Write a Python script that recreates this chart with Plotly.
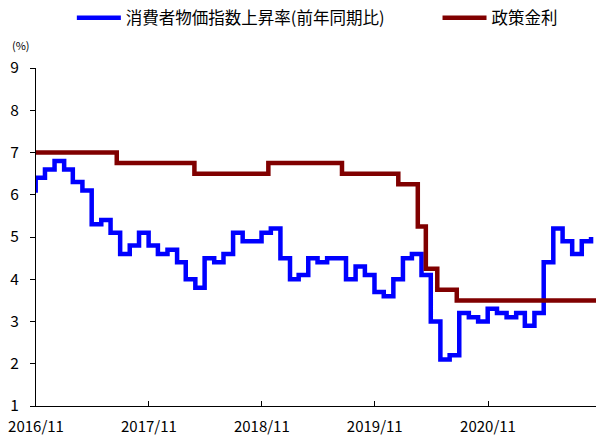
import pandas as pd
import plotly.graph_objects as go

# CPI year-on-year (%), monthly, Sep 2016 .. Sep 2021 (plotted at month end)
cpi_months = pd.period_range("2016-09", "2021-09", freq="M").strftime("%Y/%m").tolist()
cpi_values = [
    6.1, 6.4, 6.6, 6.8,
    6.6, 6.3, 6.1, 5.3, 5.4, 5.1, 4.6, 4.8, 5.1, 4.8, 4.6, 4.7,
    4.4, 4.0, 3.8, 4.5, 4.4, 4.6, 5.1, 4.9, 4.9, 5.1, 5.2, 4.5,
    4.0, 4.1, 4.5, 4.4, 4.5, 4.5, 4.0, 4.3, 4.1, 3.7, 3.6, 4.0,
    4.5, 4.6, 4.1, 3.0, 2.1, 2.2, 3.2, 3.1, 3.0, 3.3, 3.2, 3.1,
    3.2, 2.9, 3.2, 4.4, 5.2, 4.9, 4.6, 4.9, 5.0,
]

# Policy rate (%), decision dates
rate_dates = ["2016-03-17", "2017-07-20", "2018-03-28", "2018-11-22", "2019-07-18",
              "2020-01-16", "2020-03-19", "2020-04-14", "2020-05-21", "2020-07-23",
              "2021-10-31"]
rate_values = [7.0, 6.75, 6.5, 6.75, 6.5, 6.25, 5.25, 4.25, 3.75, 3.5, 3.5]

tick_dates = ["2016-11-01", "2017-11-01", "2018-11-01", "2019-11-01", "2020-11-01"]
tick_labels = ["2016/11", "2017/11", "2018/11", "2019/11", "2020/11"]
y_ticks = [1, 2, 3, 4, 5, 6, 7, 8, 9]

cpi_dates = [pd.Period(m.replace("/", "-"), freq="M").end_time.normalize() for m in cpi_months]

FONT = "Noto Sans CJK JP"

fig = go.Figure()
fig.add_trace(go.Scatter(
    x=cpi_dates, y=cpi_values, mode="lines", line_shape="hv",
    name="消費者物価指数上昇率(前年同期比)",
    line=dict(color="#0000FF", width=4.5),
    legend="legend",
))
fig.add_trace(go.Scatter(
    x=pd.to_datetime(rate_dates), y=rate_values, mode="lines", line_shape="hv",
    name="政策金利",
    line=dict(color="#800000", width=4.5),
    legend="legend2",
))

leg_common = dict(
    orientation="h", yanchor="middle", xanchor="left",
    font=dict(size=16.5, family=FONT, color="black"),
    bgcolor="rgba(0,0,0,0)", itemwidth=44,
)

fig.update_layout(
    width=596, height=436,
    margin=dict(l=36, r=0, t=68, b=30, autoexpand=False),
    paper_bgcolor="white", plot_bgcolor="white",
    font=dict(family=FONT, size=16, color="black"),
    showlegend=True,
    legend=dict(x=0.064, y=1.148, **leg_common),
    legend2=dict(x=0.717, y=1.148, **leg_common),
    xaxis=dict(
        type="date", range=["2016-11-01", "2021-10-16"],
        tickvals=tick_dates, ticktext=tick_labels,
        ticks="inside", ticklen=5, tickcolor="black",
        showline=True, linecolor="black", linewidth=1,
        showgrid=False, zeroline=False, automargin=False,
        tickfont=dict(size=15, family=FONT, color="black"),
        ticklabelstandoff=7,
    ),
    yaxis=dict(
        range=[1, 9], tickvals=y_ticks,
        ticks="outside", ticklen=5, tickcolor="black",
        showline=True, linecolor="black", linewidth=1,
        showgrid=False, zeroline=False, automargin=False,
        tickfont=dict(size=15.5, family=FONT, color="black"),
        ticklabelstandoff=8,
    ),
    annotations=[dict(
        text="(%)", xref="paper", yref="paper", x=-0.026, y=1.068,
        xanchor="center", yanchor="middle", showarrow=False,
        font=dict(size=11, family=FONT, color="black"),
    )],
)

fig.write_html("out.html", config={"displayModeBar": False},
               post_script="document.body.style.margin='0';")
